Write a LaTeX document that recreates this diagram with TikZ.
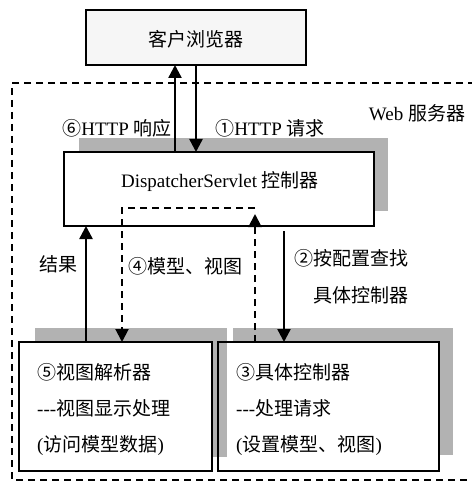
\documentclass[tikz,border=0pt]{standalone}
\usepackage{fontspec}
\setmainfont{Liberation Serif}
\newfontfamily\cjkfont{Noto Sans CJK SC}
\newcommand\zh[1]{{\cjkfont #1}}
\usetikzlibrary{arrows.meta}
\definecolor{shade}{gray}{0.70}
\definecolor{clientfill}{gray}{0.965}
\tikzset{
  box/.style={draw=black, line width=1.6pt, fill=white, inner sep=0pt, outer sep=0pt},
  shadowbox/.style={fill=shade, draw=none},
  arr/.style={line width=2.4pt, -{Triangle[width=13pt,length=13pt]}},
  darr/.style={line width=2pt, dash pattern=on 7pt off 5pt, -{Triangle[width=13pt,length=13pt]}},
  lbl/.style={inner sep=0pt, font=\fontsize{19}{22}\selectfont},
  blbl/.style={lbl, anchor=west},
}
\begin{document}
\begin{tikzpicture}[x=1pt,y=-1pt]
\useasboundingbox (0,0) rectangle (471,489);
% outer web server border
\draw[line width=1.6pt, dash pattern=on 7pt off 5pt] (475,83) -- (12,83) -- (12,480) -- (475,480);
\node[lbl] (web) at (417,113) {Web \zh{服务器}};
% client
\node[box, fill=clientfill, minimum width=220pt, minimum height=55pt] (client) at (196,37.5) {};
\node[lbl] (clienttxt) at (196,39) {\zh{客户浏览器}};
% shadows
\fill[shadowbox] (79,138) rectangle (388,211);
\fill[shadowbox] (35,328) rectangle (227,457);
\fill[shadowbox] (233,328) rectangle (453,455);
% dispatcher
\node[box, minimum width=310pt, minimum height=74pt] (ds) at (219,189) {};
\node[lbl] (dstxt) at (220,182) {DispatcherServlet \zh{控制器}};
% view resolver
\node[box, minimum width=193pt, minimum height=129pt] (view) at (115.5,406.5) {};
% controller
\node[box, minimum width=221pt, minimum height=129pt] (ctrl) at (328.5,406.5) {};
\fill[shadowbox] (219,343) rectangle (227,457);
\draw[line width=1.6pt] (ctrl.north west) rectangle (ctrl.south east);
% box texts
\node[blbl] (v1) at (37,372) {\zh{⑤视图解析器}};
\node[blbl] (v2) at (37,408) {-{}-{}-\zh{视图显示处理}};
\node[blbl] (v3) at (37,446) {(\zh{访问模型数据})};
\node[blbl] (c1) at (236,372) {\zh{③具体控制器}};
\node[blbl] (c2) at (236,408) {-{}-{}-\zh{处理请求}};
\node[blbl] (c3) at (236,446) {(\zh{设置模型、视图})};
% connector columns
\coordinate (xa) at (175,0);
\coordinate (xb) at (196,0);
\coordinate (xc) at (86,0);
\coordinate (xd) at (122,0);
\coordinate (xe) at (255,0);
\coordinate (xf) at (284,0);
\coordinate (dtop) at (0,208);
\coordinate (dtip) at (0,214);
\coordinate (fstart) at (0,231);
% HTTP arrows
\draw[arr] (xa |- ds.north) -- (xa |- client.south);
\draw[arr] (xb |- client.south) -- (xb |- ds.north);
\node[lbl] (l6) at (117,128) {\zh{⑥}HTTP \zh{响应}};
\node[lbl] (l1) at (270,128) {\zh{①}HTTP \zh{请求}};
% result
\draw[arr] (xc |- view.north) -- (xc |- ds.south);
\node[lbl] (lres) at (58,264) {\zh{结果}};
% model & view (dashed)
\draw[darr] (xe |- ctrl.north) -- (xe |- dtip);
\draw[darr] (xe |- dtop) -- (xd |- dtop) -- (xd |- view.north);
\node[lbl] (l4) at (185,266) {\zh{④模型、视图}};
% find controller
\draw[arr] (xf |- fstart) -- (xf |- ctrl.north);
\node[lbl] (l2a) at (351,258) {\zh{②按配置查找}};
\node[lbl] (l2b) at (361,295) {\zh{具体控制器}};
\end{tikzpicture}
\end{document}
